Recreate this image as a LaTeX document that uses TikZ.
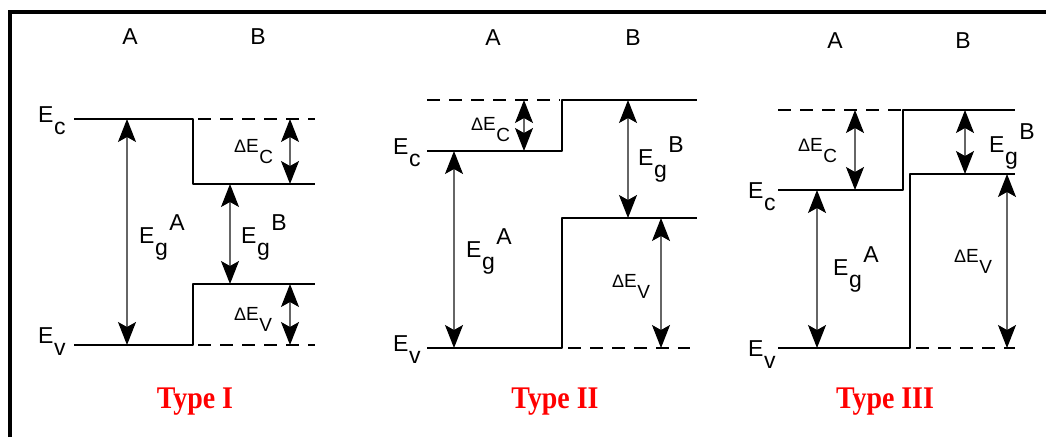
\documentclass[tikz,border=0pt]{standalone}
\usepackage{fontspec}
\setmainfont{Liberation Sans}
\newfontfamily\typefont{Liberation Serif}
\usetikzlibrary{arrows.meta}
\newcommand{\Elev}[1]{E\kern0.5pt\raisebox{-12pt}{#1}}
\newcommand{\Egap}[1]{E\kern0.5pt\raisebox{-12pt}{g}\kern1.5pt\raisebox{13pt}{#1}}
\newcommand{\dEoff}[1]{{\fontsize{18}{18}\selectfont Δ}E\kern0.5pt\raisebox{-11pt}{#1}}
\newcommand{\typelab}[1]{\scalebox{0.93}[1.05]{#1}}
\begin{document}
\begin{tikzpicture}[x=1pt, y=-1pt, line join=round,
	>={Stealth[length=23pt, width=18pt, inset=5pt, color=black]},
	lev/.style={line width=2pt},
	off/.style={line width=2pt, dash pattern=on 13pt off 9pt},
	gap/.style={<->, line width=1.2pt, black!60},
	hd/.style={anchor=base, inner sep=0pt, font=\fontsize{23}{23}\selectfont},
	lab/.style={anchor=base west, inner sep=0pt, font=\fontsize{23}{23}\selectfont},
	small/.style={anchor=base west, inner sep=0pt, font=\fontsize{19}{19}\selectfont},
	kind/.style={anchor=base, inner sep=0pt, text=red, font=\typefont\bfseries\fontsize{30}{30}\selectfont}]
	\useasboundingbox (0,0) rectangle (1046,437);
	\draw [line width=4pt, line join=miter] (10,437)--(10,12)--(1046,12);
	% Type I
	\node[hd] (tIa) at (130,44) {A};
	\node[hd] (tIb) at (258,44) {B};
	\node[lab] (tIc) at (38,122) {\Elev{c}};
	\node[lab] (tIv) at (38,343) {\Elev{v}};
	\draw [lev] (74,119)--(193,119)--(193,184)--(315,184) (74,345)--(193,345)--(193,284)--(315,284);
	\draw [off] (198,119)--(315,119) (198,345)--(315,345);
	\draw [gap] (127,119)--(127,345);
	\draw [gap] (230,184)--(230,284);
	\draw [gap] (290,119)--(290,184);
	\draw [gap] (290,284)--(290,345);
	\node[lab] (tIga) at (139,243) {\Egap{A}};
	\node[lab] (tIgb) at (241,243) {\Egap{B}};
	\node[small] (tIdc) at (234,152) {\dEoff{C}};
	\node[small] (tIdv) at (234,320) {\dEoff{V}};
	\node[kind] (tI) at (195,408) {\typelab{Type I}};
	% Type II
	\node[hd] (tIIa) at (493,45) {A};
	\node[hd] (tIIb) at (633,45) {B};
	\node[lab] (tIIc) at (393,154) {\Elev{c}};
	\node[lab] (tIIv) at (393,351) {\Elev{v}};
	\draw [lev] (427,151)--(562,151)--(562,100)--(697,100) (427,348)--(562,348)--(562,218)--(697,218);
	\draw [off] (427,100)--(560,100) (568,348)--(690,348);
	\draw [gap] (454,151)--(454,348);
	\draw [gap] (524,100)--(524,151);
	\draw [gap] (628,100)--(628,218);
	\draw [gap] (661,218)--(661,348);
	\node[lab] (tIIga) at (466,257) {\Egap{A}};
	\node[lab] (tIIgb) at (638,165) {\Egap{B}};
	\node[small] (tIIdc) at (471,130) {\dEoff{C}};
	\node[small] (tIIdv) at (612,287) {\dEoff{V}};
	\node[kind] (tII) at (555,408) {\typelab{Type II}};
	% Type III
	\node[hd] (tIIIa) at (835,48) {A};
	\node[hd] (tIIIb) at (963,48) {B};
	\node[lab] (tIIIc) at (748,198) {\Elev{c}};
	\node[lab] (tIIIv) at (748,356) {\Elev{v}};
	\draw [lev] (778,190)--(903,190)--(903,110)--(1015,110) (778,348)--(910,348)--(910,174)--(1015,174);
	\draw [off] (778,110)--(903,110) (916,348)--(1015,348);
	\draw [gap] (817,190)--(817,348);
	\draw [gap] (855,110)--(855,190);
	\draw [gap] (965,110)--(965,174);
	\draw [gap] (1007,174)--(1007,348);
	\node[lab] (tIIIga) at (833,275) {\Egap{A}};
	\node[lab] (tIIIgb) at (989,152) {\Egap{B}};
	\node[small] (tIIIdc) at (798,151) {\dEoff{C}};
	\node[small] (tIIIdv) at (954,262) {\dEoff{V}};
	\node[kind] (tIII) at (885,408) {\typelab{Type III}};
\end{tikzpicture}
\end{document}
